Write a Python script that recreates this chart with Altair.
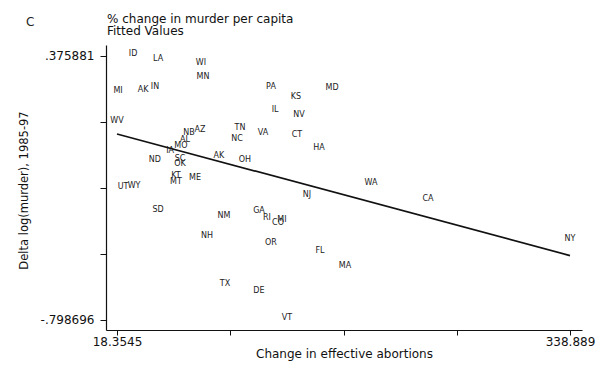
import altair as alt
import pandas as pd

# ---- data ----
states = ["ID", "LA", "WI", "MN", "MI", "AK", "IN", "PA", "MD", "KS",
          "IL", "NV", "WV", "TN", "VA", "CT", "NB", "AZ", "NC", "AL",
          "HA", "MO", "IA", "AK", "OH", "ND", "SC", "OK", "KT", "MT",
          "ME", "UT", "WY", "WA", "NJ", "CA", "SD", "GA", "NM", "RI",
          "MI", "CO", "NH", "OR", "FL", "MA", "NY", "TX", "DE", "VT"]
abortions = [29.7, 47.4, 77.8, 79.2, 19.1, 36.8, 45.2, 127.3, 170.5, 145.0,
             130.2, 147.1, 18.3545, 105.4, 121.7, 145.7, 69.3, 77.1, 103.3, 66.5,
             161.3, 63.6, 55.9, 90.5, 108.9, 45.2, 62.9, 62.9, 60.1, 60.1,
             73.6, 22.6, 30.4, 198.1, 152.8, 238.4, 47.4, 118.8, 94.1, 124.5,
             135.1, 132.3, 82.0, 127.3, 162.0, 179.7, 338.889, 94.8, 118.8, 138.6]
dlog_murder = [0.375881, 0.354, 0.336, 0.274, 0.211, 0.216, 0.229, 0.229, 0.225, 0.185,
               0.127, 0.105, 0.078, 0.047, 0.024, 0.016, 0.024, 0.038, -0.002, -0.007,
               -0.042, -0.033, -0.056, -0.078, -0.096, -0.096, -0.091, -0.114, -0.167, -0.194,
               -0.176, -0.216, -0.211, -0.198, -0.251, -0.269, -0.318, -0.323, -0.345, -0.354,
               -0.363, -0.376, -0.434, -0.465, -0.501, -0.567, -0.447, -0.647, -0.679, -0.798696]

fit_x = [18.3545, 338.889]
fit_y = [0.029, -0.512]

x_ticks = [18.3545, 98.488, 178.6218, 258.7555, 338.889]
x_tick_labels = ["18.3545", "", "", "", "338.889"]
y_ticks = [0.375881, 0.082237, -0.211408, -0.505052, -0.798696]
y_tick_labels = [".375881", "", "", "", "-.798696"]

legend_lines = ["% change in murder per capita", "Fitted Values"]
panel_letter = ["C"]

x_domain = [10.57, 347.38]
y_domain = [-0.8432, 0.4248]

FONT = "DejaVu Sans"

def label_expr(values, labels):
    vals = ",".join(repr(v) for v in values)
    labs = ",".join("'" + l + "'" for l in labels)
    return f"[{labs}][indexof([{vals}], datum.value)]"

pts = pd.DataFrame({"state": states, "x": abortions, "y": dlog_murder})
fit = pd.DataFrame({"x": fit_x, "y": fit_y})

x_enc = alt.X("x:Q", scale=alt.Scale(domain=x_domain, nice=False, zero=False),
              axis=alt.Axis(values=x_ticks, labelExpr=label_expr(x_ticks, x_tick_labels),
                            title="Change in effective abortions", tickSize=5,
                            labelPadding=1, titlePadding=1, labelFlush=False,
                            labelOverlap=False))
y_enc = alt.Y("y:Q", scale=alt.Scale(domain=y_domain, nice=False, zero=False),
              axis=alt.Axis(values=y_ticks, labelExpr=label_expr(y_ticks, y_tick_labels),
                            title="Delta log(murder), 1985-97", tickSize=6,
                            labelPadding=6, titleX=-77, titleY=145,
                            titleFontSize=11.5, labelFlush=False, labelOverlap=False))

labels = alt.Chart(pts).mark_text(font=FONT, fontSize=8, color="#222",
                                   baseline="middle", align="center", dy=-2).encode(
    x=x_enc, y=y_enc, text="state:N")

line = alt.Chart(fit).mark_line(color="#111", strokeWidth=1.7).encode(
    x=alt.X("x:Q"), y=alt.Y("y:Q"))

panel = alt.Chart(pd.DataFrame({"t": panel_letter})).mark_text(
    font=FONT, fontSize=12, color="#222", align="left", baseline="middle").encode(
    x=alt.value(-80), y=alt.value(-23), text="t:N")

leg1 = alt.Chart(pd.DataFrame({"t": legend_lines[:1]})).mark_text(
    font=FONT, fontSize=12, color="#111", align="left", baseline="middle").encode(
    x=alt.value(1), y=alt.value(-26), text="t:N")
leg2 = alt.Chart(pd.DataFrame({"t": legend_lines[1:]})).mark_text(
    font=FONT, fontSize=12, color="#111", align="left", baseline="middle").encode(
    x=alt.value(1), y=alt.value(-14), text="t:N")

frame = alt.Chart(pd.DataFrame({"t": [0]})).mark_rect(
    fill="white", fillOpacity=0, stroke="#d8d8d8", strokeWidth=1.5,
    cornerRadius=6, clip=False).encode(
    x=alt.value(-103), x2=alt.value(506), y=alt.value(-60), y2=alt.value(317))

chart = alt.layer(frame, labels, line, panel, leg1, leg2).properties(
    width=476, height=285,
    autosize=alt.AutoSizeParams(type="none"),
    padding={"left": 98, "top": 37, "right": 26, "bottom": 31},
    background="white",
).configure_view(stroke=None).configure_axis(
    grid=False, domainColor="#111", domainWidth=1.2, tickColor="#111", tickWidth=1,
    labelFont=FONT, labelFontSize=12, labelColor="#111",
    titleFont=FONT, titleFontSize=12, titleFontWeight="normal", titleColor="#111")

chart.save("out.html", embed_options={"renderer": "svg", "actions": False})
